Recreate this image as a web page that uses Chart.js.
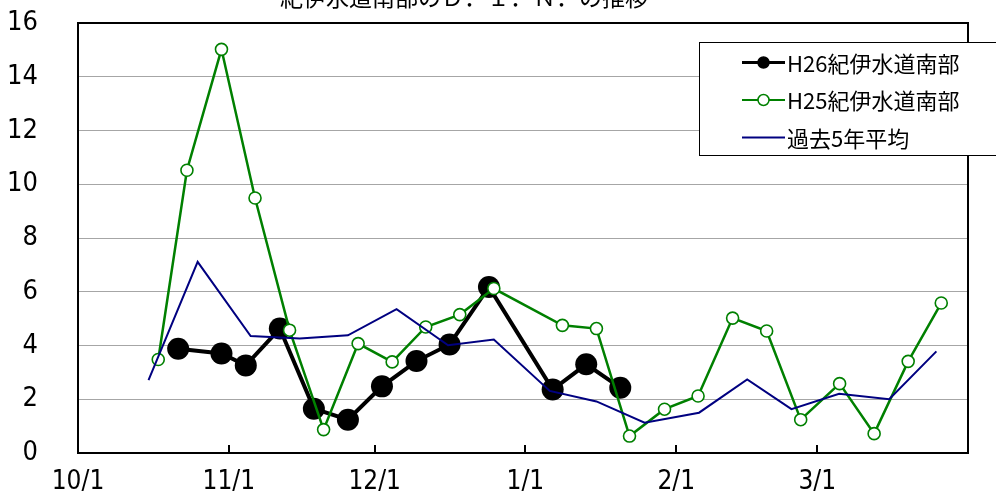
<!DOCTYPE html>
<html>
<head>
<meta charset="utf-8">
<script src="https://cdn.jsdelivr.net/npm/chart.js@4/dist/chart.umd.min.js"></script>
<style>
  html, body { margin: 0; padding: 0; background: #fff; overflow: hidden; }
  #wrap { width: 996px; height: 496px; position: relative; }
</style>
</head>
<body>
<div id="wrap"><canvas id="c" width="996" height="496"></canvas></div>
<script>
// ---- data (x = days since 10/1) ----
const titleText = '紀伊水道南部のＤ．Ｉ．Ｎ．の推移';
const seriesLabels = ['H26紀伊水道南部', 'H25紀伊水道南部', '過去5年平均'];
const tickDays = [0, 31, 61, 92, 123, 152];
const tickLabels = ['10/1', '11/1', '12/1', '1/1', '2/1', '3/1'];
const yTickValues = [0, 2, 4, 6, 8, 10, 12, 14, 16];

const h26Days = [20.6, 29.5, 34.5, 41.5, 48.5, 55.5, 62.5, 69.6, 76.4, 84.5, 97.6, 104.5, 111.5];
const h26Vals = [3.88, 3.70, 3.26, 4.63, 1.65, 1.24, 2.48, 3.42, 4.04, 6.18, 2.36, 3.30, 2.43];

const h25Days = [16.5, 22.4, 29.5, 36.4, 43.5, 50.5, 57.6, 64.6, 71.5, 78.5, 85.5, 99.6, 106.6, 113.4, 120.6, 127.5, 134.6, 141.6, 148.6, 156.6, 163.7, 170.7, 177.5];
const h25Vals = [3.48, 10.52, 15.02, 9.49, 4.57, 0.87, 4.07, 3.39, 4.69, 5.15, 6.12, 4.75, 4.63, 0.63, 1.63, 2.12, 5.02, 4.54, 1.24, 2.58, 0.72, 3.41, 5.58];

const avgDays = [14.5, 24.6, 35.5, 45.6, 55.5, 65.5, 76.1, 85.5, 97.0, 106.6, 116.5, 127.7, 137.6, 146.7, 156.5, 166.8, 176.5];
const avgVals = [2.71, 7.11, 4.35, 4.26, 4.38, 5.35, 4.01, 4.22, 2.31, 1.92, 1.13, 1.50, 2.74, 1.63, 2.20, 2.00, 3.78];

const toXY = (xs, ys) => xs.map((x, i) => ({ x: x, y: ys[i] }));

const NUM_FONT = "'Liberation Sans Narrow', 'Arial Narrow', 'DejaVu Sans Condensed', sans-serif";
const JP_FONT = "'Noto Sans CJK JP', 'Noto Sans', sans-serif";

const framePlugin = {
  id: 'frame',
  beforeDatasetsDraw(chart) {
    const { ctx, chartArea: a, scales } = chart;
    ctx.save();
    ctx.strokeStyle = '#000';
    ctx.lineWidth = 2;
    ctx.strokeRect(a.left, a.top, a.right - a.left, a.bottom - a.top);
    // inner tick marks on x axis
    tickDays.forEach(d => {
      const px = Math.round(scales.x.getPixelForValue(d));
      ctx.beginPath();
      ctx.moveTo(px, a.bottom);
      ctx.lineTo(px, a.bottom - 8);
      ctx.stroke();
    });
    ctx.restore();
  },
  afterDraw(chart) {
    const { ctx } = chart;
    const ds = chart.data.datasets;
    ctx.save();
    // title (partly above the picture)
    ctx.fillStyle = '#000';
    ctx.font = '23px ' + JP_FONT;
    ctx.textAlign = 'center';
    ctx.textBaseline = 'alphabetic';
    ctx.fillText(titleText, 464, 6);
    // legend box
    const bx = 699.5, by = 42.5, bw = 400, bh = 113;
    ctx.fillStyle = '#fff';
    ctx.fillRect(bx, by, bw, bh);
    ctx.strokeStyle = '#000';
    ctx.lineWidth = 1;
    ctx.strokeRect(bx, by, bw, bh);
    const rows = [62.5, 100, 137.5];
    ds.forEach((d, i) => {
      const y = rows[i];
      ctx.strokeStyle = d.borderColor;
      ctx.lineWidth = i === 0 ? 3 : 2;
      ctx.beginPath();
      ctx.moveTo(742, y);
      ctx.lineTo(785, y);
      ctx.stroke();
      if (d.pointRadius > 0) {
        ctx.beginPath();
        ctx.arc(763.5, y, 5.5, 0, Math.PI * 2);
        ctx.fillStyle = d.pointBackgroundColor;
        ctx.fill();
        ctx.lineWidth = 1.5;
        ctx.strokeStyle = d.pointBorderColor;
        ctx.stroke();
      }
      ctx.fillStyle = '#000';
      ctx.font = '22px ' + JP_FONT;
      ctx.textAlign = 'left';
      ctx.textBaseline = 'middle';
      ctx.fillText(d.label, 787, y + 1);
    });
    ctx.restore();
  }
};

new Chart(document.getElementById('c'), {
  type: 'line',
  data: {
    datasets: [
      {
        label: seriesLabels[0],
        data: toXY(h26Days, h26Vals),
        borderColor: '#000000',
        borderWidth: 4,
        pointRadius: 11,
        pointBackgroundColor: '#000000',
        pointBorderColor: '#000000',
        pointBorderWidth: 0,
        tension: 0,
        order: 2
      },
      {
        label: seriesLabels[1],
        data: toXY(h25Days, h25Vals),
        borderColor: '#008000',
        borderWidth: 2.5,
        pointRadius: 6,
        pointBackgroundColor: '#ffffff',
        pointBorderColor: '#008000',
        pointBorderWidth: 1.6,
        tension: 0,
        order: 1
      },
      {
        label: seriesLabels[2],
        data: toXY(avgDays, avgVals),
        borderColor: '#000080',
        borderWidth: 2,
        pointRadius: 0,
        pointBackgroundColor: '#000080',
        pointBorderColor: '#000080',
        tension: 0,
        order: 0
      }
    ]
  },
  options: {
    responsive: false,
    devicePixelRatio: 1,
    animation: false,
    events: [],
    layout: { padding: { top: 23, right: 28, left: 0, bottom: 0 } },
    plugins: {
      legend: { display: false },
      title: { display: false },
      tooltip: { enabled: false }
    },
    scales: {
      x: {
        type: 'linear',
        min: 0,
        max: 183,
        afterBuildTicks(scale) { scale.ticks = tickDays.map(v => ({ value: v })); },
        afterFit(scale) { scale.height = 43; scale.paddingLeft = 0; scale.paddingRight = 0; },
        ticks: {
          autoSkip: false,
          maxRotation: 0,
          padding: 14,
          color: '#000',
          font: { family: NUM_FONT, size: 26 },
          callback: (v) => { const i = tickDays.indexOf(v); return i >= 0 ? tickLabels[i] : ''; }
        },
        grid: { display: false, drawTicks: false },
        border: { display: false }
      },
      y: {
        min: 0,
        max: 16,
        afterBuildTicks(scale) { scale.ticks = yTickValues.map(v => ({ value: v })); },
        afterFit(scale) { scale.width = 78; scale.paddingTop = 0; scale.paddingBottom = 0; },
        ticks: {
          padding: 40,
          color: '#000',
          font: { family: NUM_FONT, size: 27 }
        },
        grid: { color: '#a6a6a6', lineWidth: 1, drawTicks: false },
        border: { display: false }
      }
    }
  },
  plugins: [framePlugin]
});
</script>
</body>
</html>
